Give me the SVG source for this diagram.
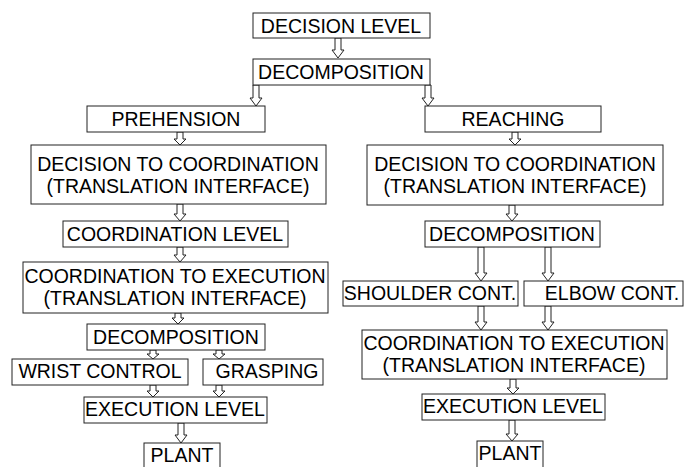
<svg xmlns="http://www.w3.org/2000/svg" width="693" height="467" viewBox="0 0 693 467">
<style>
.box{fill:#fff;stroke:#222;stroke-width:1}
.t{font-family:"Liberation Sans",Arial,sans-serif;font-size:19.5px;fill:#000;text-anchor:middle}
.ar{fill:#fff;stroke:#222;stroke-width:1}
</style>
<rect width="693" height="467" fill="#fff"/>
<g id="connectors">
<path class="ar" d="M335,38V50H332L338,58L344,50H341V38Z"/>
<path class="ar" d="M253,85V98H250L256,106L262,98H259V85Z"/>
<path class="ar" d="M425,85V98H422L428,106L434,98H431V85Z"/>
<path class="ar" d="M177,132V139H174L180,145L186,139H183V132Z"/>
<path class="ar" d="M512,132V139H509L515,145L521,139H518V132Z"/>
<path class="ar" d="M177,204V214H174L180,221L186,214H183V204Z"/>
<path class="ar" d="M509,205V214H506L512,221L518,214H515V205Z"/>
<path class="ar" d="M177,247V255H174L180,262L186,255H183V247Z"/>
<path class="ar" d="M478,247V273H475L481,281L487,273H484V247Z"/>
<path class="ar" d="M545,247V273H542L548,281L554,273H551V247Z"/>
<path class="ar" d="M175,313V318H172L178,324L184,318H181V313Z"/>
<path class="ar" d="M478,306V322H475L481,330L487,322H484V306Z"/>
<path class="ar" d="M545,306V322H542L548,330L554,322H551V306Z"/>
<path class="ar" d="M150,350V354H147L153,359L159,354H156V350Z"/>
<path class="ar" d="M216,350V354H213L219,359L225,354H222V350Z"/>
<path class="ar" d="M150,385V391H147L153,397L159,391H156V385Z"/>
<path class="ar" d="M216,385V391H213L219,397L225,391H222V385Z"/>
<path class="ar" d="M178,423V435H175L181,443L187,435H184V423Z"/>
<path class="ar" d="M510,379V388H507L513,394L519,388H516V379Z"/>
<path class="ar" d="M509,420V434H506L512,441L518,434H515V420Z"/>
</g>
<g id="decision_level"><rect class="box" x="253" y="13" width="177" height="25"/><text class="t" x="341" y="33">DECISION LEVEL</text></g>
<g id="decomposition_top"><rect class="box" x="253" y="59" width="177" height="26"/><text class="t" x="341" y="79">DECOMPOSITION</text></g>
<g id="prehension"><rect class="box" x="87" y="106" width="178" height="26"/><text class="t" x="176" y="126">PREHENSION</text></g>
<g id="reaching"><rect class="box" x="425" y="106" width="176" height="26"/><text class="t" x="513" y="126">REACHING</text></g>
<g id="dtc_left"><rect class="box" x="31" y="145" width="295" height="59"/><text class="t" x="178" y="171">DECISION TO COORDINATION</text><text class="t" x="178" y="193">(TRANSLATION INTERFACE)</text></g>
<g id="dtc_right"><rect class="box" x="367" y="145" width="296" height="60"/><text class="t" x="515" y="171">DECISION TO COORDINATION</text><text class="t" x="515" y="193">(TRANSLATION INTERFACE)</text></g>
<g id="coordination_level"><rect class="box" x="63" y="221" width="225" height="26"/><text class="t" x="175" y="241">COORDINATION LEVEL</text></g>
<g id="decomposition_right"><rect class="box" x="425" y="221" width="175" height="26"/><text class="t" x="512" y="241">DECOMPOSITION</text></g>
<g id="cte_left"><rect class="box" x="23" y="262" width="305" height="51"/><text class="t" x="175" y="283">COORDINATION TO EXECUTION</text><text class="t" x="175" y="305">(TRANSLATION INTERFACE)</text></g>
<g id="shoulder"><rect class="box" x="343" y="281" width="175" height="25"/><text class="t" x="430" y="300">SHOULDER CONT.</text></g>
<g id="elbow"><rect class="box" x="524" y="281" width="159" height="25"/><text class="t" x="612" y="300">ELBOW CONT.</text></g>
<g id="decomposition_left"><rect class="box" x="87" y="324" width="178" height="26"/><text class="t" x="176" y="344">DECOMPOSITION</text></g>
<g id="cte_right"><rect class="box" x="362" y="330" width="305" height="49"/><text class="t" x="514" y="350">COORDINATION TO EXECUTION</text><text class="t" x="514" y="372">(TRANSLATION INTERFACE)</text></g>
<g id="wrist"><rect class="box" x="12" y="359" width="176" height="26"/><text class="t" x="100" y="378">WRIST CONTROL</text></g>
<g id="grasping"><rect class="box" x="203" y="359" width="120" height="26"/><text class="t" x="267" y="378">GRASPING</text></g>
<g id="execution_left"><rect class="box" x="84" y="397" width="183" height="26"/><text class="t" x="175" y="416">EXECUTION LEVEL</text></g>
<g id="plant_left"><rect class="box" x="144" y="443" width="76" height="30"/><text class="t" x="182" y="462">PLANT</text></g>
<g id="execution_right"><rect class="box" x="422" y="394" width="183" height="26"/><text class="t" x="513" y="413">EXECUTION LEVEL</text></g>
<g id="plant_right"><rect class="box" x="477" y="441" width="66" height="32"/><text class="t" x="510" y="460">PLANT</text></g>
</svg>
